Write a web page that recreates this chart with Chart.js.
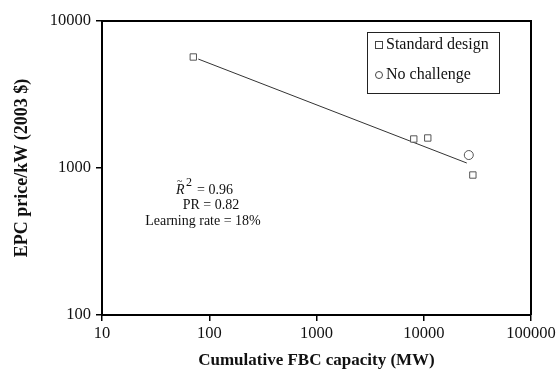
<!DOCTYPE html>
<html>
<head>
<meta charset="utf-8">
<script src="https://cdn.jsdelivr.net/npm/chart.js@4.4.1/dist/chart.umd.min.js"></script>
<style>
html,body{margin:0;padding:0;background:#fff;}
#wrap{width:558px;height:372px;position:relative;}
</style>
</head>
<body>
<div id="wrap"><canvas id="c" width="558" height="372"></canvas></div>
<script>
// ---- data ----
const standardDesign = [
  {x: 71, y: 5690},
  {x: 8070, y: 1575},
  {x: 10900, y: 1600},
  {x: 28700, y: 896}
];
const noChallenge = [
  {x: 26300, y: 1225}
];
const trendLine = [
  {x: 79, y: 5510},
  {x: 25200, y: 1081}
];
const xTicks = [10, 100, 1000, 10000, 100000];
const yTicks = [100, 1000, 10000];
const seriesLabels = ['Standard design', 'No challenge'];
const annotations = ['PR = 0.82', 'Learning rate = 18%'];
const xTitle = 'Cumulative FBC capacity (MW)';
const yTitle = 'EPC price/kW (2003 $)';

const SERIF = '"Liberation Serif", "DejaVu Serif", serif';

const framePlugin = {
  id: 'frame',
  afterDatasetsDraw(chart) {
    const {ctx, chartArea: a} = chart;
    ctx.save();
    ctx.strokeStyle = '#000';
    ctx.lineWidth = 2;
    ctx.beginPath();
    ctx.moveTo(a.left, a.top);
    ctx.lineTo(a.right, a.top);
    ctx.lineTo(a.right, a.bottom);
    ctx.stroke();
    // legend box
    const bx = 367, by = 32, bw = 132, bh = 61;
    ctx.lineWidth = 1;
    ctx.strokeStyle = '#222';
    ctx.strokeRect(bx + 0.5, by + 0.5, bw, bh);
    ctx.fillStyle = '#111';
    ctx.font = '16px ' + SERIF;
    ctx.textBaseline = 'middle';
    ctx.textAlign = 'left';
    ctx.lineWidth = 1;
    ctx.strokeStyle = '#444';
    ctx.strokeRect(375.5, 41.5, 7, 7);
    ctx.fillText(seriesLabels[0], 386, 45);
    ctx.beginPath();
    ctx.arc(379, 75, 3.5, 0, Math.PI * 2);
    ctx.stroke();
    ctx.fillText(seriesLabels[1], 386, 75);
    // annotations
    ctx.textAlign = 'left';
    ctx.font = 'italic 14px ' + SERIF;
    ctx.fillText('R', 176, 190);
    ctx.font = '10px ' + SERIF;
    ctx.fillText('~', 177, 181);
    ctx.font = '12px ' + SERIF;
    ctx.fillText('2', 186, 183);
    ctx.font = '14px ' + SERIF;
    ctx.fillText('= 0.96', 197, 190);
    ctx.textAlign = 'center';
    ctx.fillText(annotations[0], 211, 205);
    ctx.fillText(annotations[1], 203, 221);
    ctx.restore();
  }
};

new Chart(document.getElementById('c'), {
  type: 'scatter',
  data: {
    datasets: [
      {
        label: seriesLabels[0],
        data: standardDesign,
        pointStyle: 'rect',
        pointRadius: 4.5,
        borderColor: '#555',
        backgroundColor: '#fff',
        borderWidth: 1
      },
      {
        label: seriesLabels[1],
        data: noChallenge,
        pointStyle: 'circle',
        pointRadius: 4.5,
        borderColor: '#555',
        backgroundColor: '#fff',
        borderWidth: 1
      },
      {
        label: 'trend',
        data: trendLine,
        showLine: true,
        pointRadius: 0,
        borderColor: '#333',
        borderWidth: 1
      }
    ]
  },
  options: {
    responsive: false,
    animation: false,
    layout: {padding: {left: 0, right: 27, top: 21, bottom: 0}},
    plugins: {legend: {display: false}, tooltip: {enabled: false}},
    scales: {
      x: {
        type: 'logarithmic',
        min: 10, max: 100000,
        afterBuildTicks(axis) { axis.ticks = xTicks.map(v => ({value: v})); },
        afterFit(axis) { axis.height = 57; axis.paddingLeft = 0; axis.paddingRight = 0; },
        grid: {drawOnChartArea: false, drawTicks: true, tickLength: 6, color: '#000', lineWidth: 1.5},
        border: {display: true, color: '#000', width: 2},
        ticks: {
          color: '#111', font: {family: SERIF, size: 16.5}, padding: 3, maxRotation: 0, autoSkip: false,
          callback: (v) => String(v)
        },
        title: {display: true, text: xTitle, color: '#111', font: {family: SERIF, size: 17, weight: 'bold'}, padding: {top: 8, bottom: 1}}
      },
      y: {
        type: 'logarithmic',
        min: 100, max: 10000,
        afterBuildTicks(axis) { axis.ticks = yTicks.map(v => ({value: v})); },
        afterFit(axis) { axis.width = 102; axis.paddingTop = 0; axis.paddingBottom = 0; },
        grid: {drawOnChartArea: false, drawTicks: true, tickLength: 6, color: '#000', lineWidth: 1.5},
        border: {display: true, color: '#000', width: 2},
        ticks: {
          color: '#111', font: {family: SERIF, size: 16.5}, padding: 5, autoSkip: false,
          callback: (v) => String(v)
        },
        title: {display: true, text: yTitle, color: '#111', font: {family: SERIF, size: 18, weight: 'bold'}, padding: {top: 12, bottom: 0}}
      }
    }
  },
  plugins: [framePlugin]
});
</script>
</body>
</html>
